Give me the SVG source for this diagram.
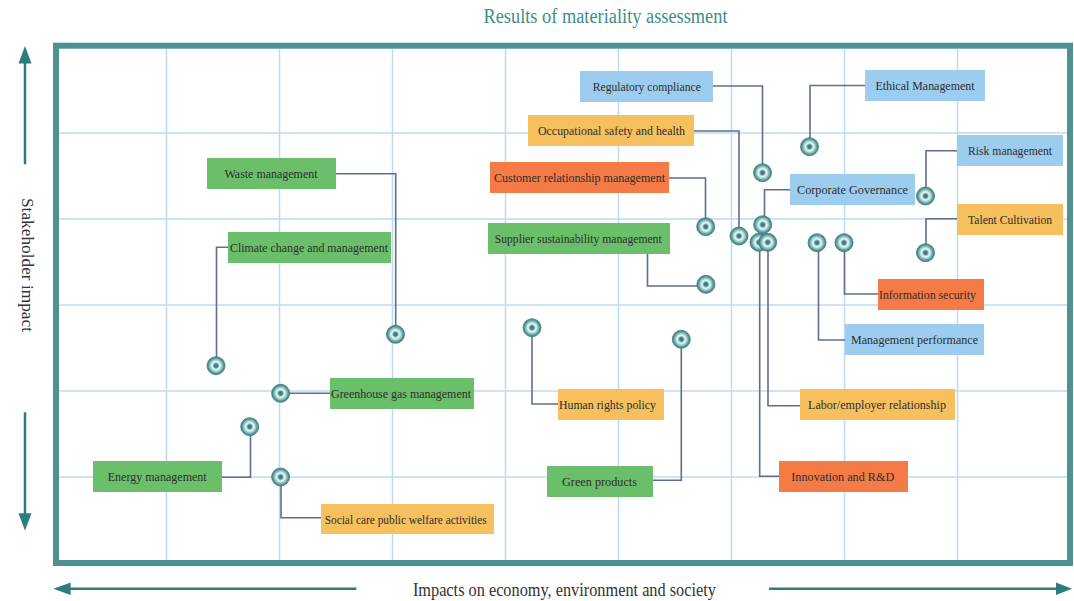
<svg xmlns="http://www.w3.org/2000/svg" width="1074" height="601" viewBox="0 0 1074 601">
<defs>
<radialGradient id="mk" cx="50%" cy="50%" r="50%">
<stop offset="0" stop-color="#2e7576"/>
<stop offset="0.2" stop-color="#3f8a8a"/>
<stop offset="0.42" stop-color="#eaf6f5"/>
<stop offset="0.58" stop-color="#bcdada"/>
<stop offset="0.82" stop-color="#5c9e9e"/>
<stop offset="1" stop-color="#3b7f80"/>
</radialGradient>
<style>
.grid{stroke:#bddcf3;stroke-width:1.6;fill:none}
.frame{fill:#ffffff;stroke:#4e9190;stroke-width:6}
.ax{stroke:#2c7d7b;stroke-width:2.5;fill:none}
.axh{fill:#2c7d7b}
.con{stroke:#5d6f8f;stroke-width:1.6;fill:none}
.g{fill:#6bbf6a}
.b{fill:#9dcdee}
.y{fill:#f6c05e}
.o{fill:#f47b45}
.lbl{font-family:"Liberation Serif",serif;font-size:13.5px;fill:#2e2e2e;text-anchor:middle}
.mk{fill:url(#mk);stroke:#3b7d7e;stroke-width:0.8}
.title{font-family:"Liberation Serif",serif;font-size:20px;fill:#3e8d8b;text-anchor:middle}
.axl{font-family:"Liberation Serif",serif;fill:#333333;text-anchor:middle}
</style>
</defs>
<text class="title" x="605.5" y="23.3" textLength="244" lengthAdjust="spacingAndGlyphs">Results of materiality assessment</text>
<rect class="frame" x="56" y="45.7" width="1014" height="517.3"/>
<g id="grid">
<path class="grid" d="M166.5,48.7V560M279.5,48.7V560M392.5,48.7V560M505.5,48.7V560M618.5,48.7V560M731.5,48.7V560M844.5,48.7V560M957.5,48.7V560"/>
<path class="grid" d="M59,133H1067M59,219H1067M59,305H1067M59,391H1067M59,477H1067"/>
</g>
<g id="axes">
<line class="ax" x1="25" y1="164.3" x2="25" y2="60"/>
<polygon class="axh" points="25,46 18.5,63.5 31.5,63.5"/>
<line class="ax" x1="25" y1="412.3" x2="25" y2="516"/>
<polygon class="axh" points="25,530.7 18.5,513.3 31.5,513.3"/>
<line class="ax" x1="356.4" y1="588.7" x2="68" y2="588.7"/>
<polygon class="axh" points="53.4,588.7 70.6,582.5 70.6,595"/>
<line class="ax" x1="769" y1="588.7" x2="1058" y2="588.7"/>
<polygon class="axh" points="1072,588.7 1056,582.5 1056,595"/>
<text class="axl" font-size="16" transform="translate(22,265) rotate(90)" x="0" y="0" textLength="134" lengthAdjust="spacingAndGlyphs">Stakeholder impact</text>
<text class="axl" font-size="18" x="564.4" y="596" textLength="303" lengthAdjust="spacingAndGlyphs">Impacts on economy, environment and society</text>
</g>
<g id="connectors">
<path class="con" d="M713,86H762.5V172"/>
<path class="con" d="M865,85.5H810V146"/>
<path class="con" d="M694,131H739V236"/>
<path class="con" d="M669,178H705.5V226"/>
<path class="con" d="M957,150.7H926V196"/>
<path class="con" d="M790,189.7H764.5V224"/>
<path class="con" d="M957,218.7H926V252"/>
<path class="con" d="M647.5,254V286H705"/>
<path class="con" d="M878,294H844.5V242.7"/>
<path class="con" d="M845,340H818.5V242.7"/>
<path class="con" d="M800,405.7H768V242.3"/>
<path class="con" d="M779,476.3H759.7V242.3"/>
<path class="con" d="M532,327.7V404H558"/>
<path class="con" d="M653,480.3H681.3V339.3"/>
<path class="con" d="M336,173.7H395.7V334.3"/>
<path class="con" d="M228,247.3H216.5V365.7"/>
<path class="con" d="M281,393.3H330"/>
<path class="con" d="M222,477.3H250.5V426.7"/>
<path class="con" d="M281,477V517.7H321"/>
</g>
<g id="n-regulatory"><rect class="b" x="580" y="71" width="133" height="31"/><text class="lbl" x="646.8" y="91" textLength="108" lengthAdjust="spacingAndGlyphs">Regulatory compliance</text><circle class="mk" cx="762.5" cy="172.7" r="9"/></g>
<g id="n-ethical"><rect class="b" x="865" y="70" width="120" height="31"/><text class="lbl" x="925" y="90" textLength="99" lengthAdjust="spacingAndGlyphs">Ethical Management</text><circle class="mk" cx="809.5" cy="146.7" r="9"/></g>
<g id="n-occupational"><rect class="y" x="528" y="115" width="166" height="31"/><text class="lbl" x="611.5" y="135" textLength="147" lengthAdjust="spacingAndGlyphs">Occupational safety and health</text><circle class="mk" cx="739" cy="236" r="9"/></g>
<g id="n-customer"><rect class="o" x="490" y="162" width="179" height="31"/><text class="lbl" x="579.5" y="182" textLength="171" lengthAdjust="spacingAndGlyphs">Customer relationship management</text><circle class="mk" cx="705.7" cy="226.7" r="9"/></g>
<g id="n-risk"><rect class="b" x="957" y="135" width="106" height="31"/><text class="lbl" x="1010" y="155" textLength="84" lengthAdjust="spacingAndGlyphs">Risk management</text><circle class="mk" cx="925.5" cy="196" r="9"/></g>
<g id="n-corporate"><rect class="b" x="790" y="174" width="125" height="31"/><text class="lbl" x="852.5" y="194" textLength="111" lengthAdjust="spacingAndGlyphs">Corporate Governance</text><circle class="mk" cx="762.7" cy="224.7" r="9"/></g>
<g id="n-talent"><rect class="y" x="957" y="204" width="106" height="31"/><text class="lbl" x="1010" y="224" textLength="84" lengthAdjust="spacingAndGlyphs">Talent Cultivation</text><circle class="mk" cx="925.5" cy="252.7" r="9"/></g>
<g id="n-supplier"><rect class="g" x="488" y="223" width="182" height="31"/><text class="lbl" x="578.2" y="243" textLength="167" lengthAdjust="spacingAndGlyphs">Supplier sustainability management</text><circle class="mk" cx="705.9" cy="284.3" r="9"/></g>
<g id="n-info"><rect class="o" x="878" y="279" width="106" height="31"/><text class="lbl" x="927.5" y="299" textLength="97" lengthAdjust="spacingAndGlyphs">Information security</text><circle class="mk" cx="844" cy="242.7" r="9"/></g>
<g id="n-mgmt"><rect class="b" x="845" y="324" width="139" height="31"/><text class="lbl" x="914.5" y="344" textLength="127" lengthAdjust="spacingAndGlyphs">Management performance</text><circle class="mk" cx="817" cy="242.7" r="9"/></g>
<g id="n-innovation"><rect class="o" x="779" y="461" width="129" height="31"/><text class="lbl" x="842.8" y="481" textLength="103" lengthAdjust="spacingAndGlyphs">Innovation and R&amp;D</text><circle class="mk" cx="759" cy="242.3" r="9"/></g>
<g id="n-labor"><rect class="y" x="800" y="389" width="155" height="31"/><text class="lbl" x="877" y="409" textLength="138" lengthAdjust="spacingAndGlyphs">Labor/employer relationship</text><circle class="mk" cx="767.7" cy="242.3" r="9"/></g>
<g id="n-human"><rect class="y" x="558" y="389" width="106" height="31"/><text class="lbl" x="607.5" y="409" textLength="97" lengthAdjust="spacingAndGlyphs">Human rights policy</text><circle class="mk" cx="532" cy="327.7" r="9"/></g>
<g id="n-green"><rect class="g" x="547" y="466" width="106" height="31"/><text class="lbl" x="599.5" y="486" textLength="75" lengthAdjust="spacingAndGlyphs">Green products</text><circle class="mk" cx="681.3" cy="339.3" r="9"/></g>
<g id="n-waste"><rect class="g" x="207" y="158" width="129" height="31"/><text class="lbl" x="271" y="178" textLength="93" lengthAdjust="spacingAndGlyphs">Waste management</text><circle class="mk" cx="395.5" cy="334.3" r="9"/></g>
<g id="n-climate"><rect class="g" x="228" y="232" width="163" height="31"/><text class="lbl" x="309" y="252" textLength="158" lengthAdjust="spacingAndGlyphs">Climate change and management</text><circle class="mk" cx="216" cy="365.7" r="9"/></g>
<g id="n-ghg"><rect class="g" x="330" y="378" width="144" height="31"/><text class="lbl" x="401" y="398" textLength="140" lengthAdjust="spacingAndGlyphs">Greenhouse gas management</text><circle class="mk" cx="280.6" cy="393.3" r="9"/></g>
<g id="n-energy"><rect class="g" x="93" y="461" width="129" height="31"/><text class="lbl" x="157.2" y="481" textLength="99" lengthAdjust="spacingAndGlyphs">Energy management</text><circle class="mk" cx="249.7" cy="426.7" r="9"/></g>
<g id="n-social"><rect class="y" x="321" y="504" width="173" height="30"/><text class="lbl" x="405.7" y="523.5" textLength="162" lengthAdjust="spacingAndGlyphs">Social care public welfare activities</text><circle class="mk" cx="280.6" cy="477" r="9"/></g>
</svg>
